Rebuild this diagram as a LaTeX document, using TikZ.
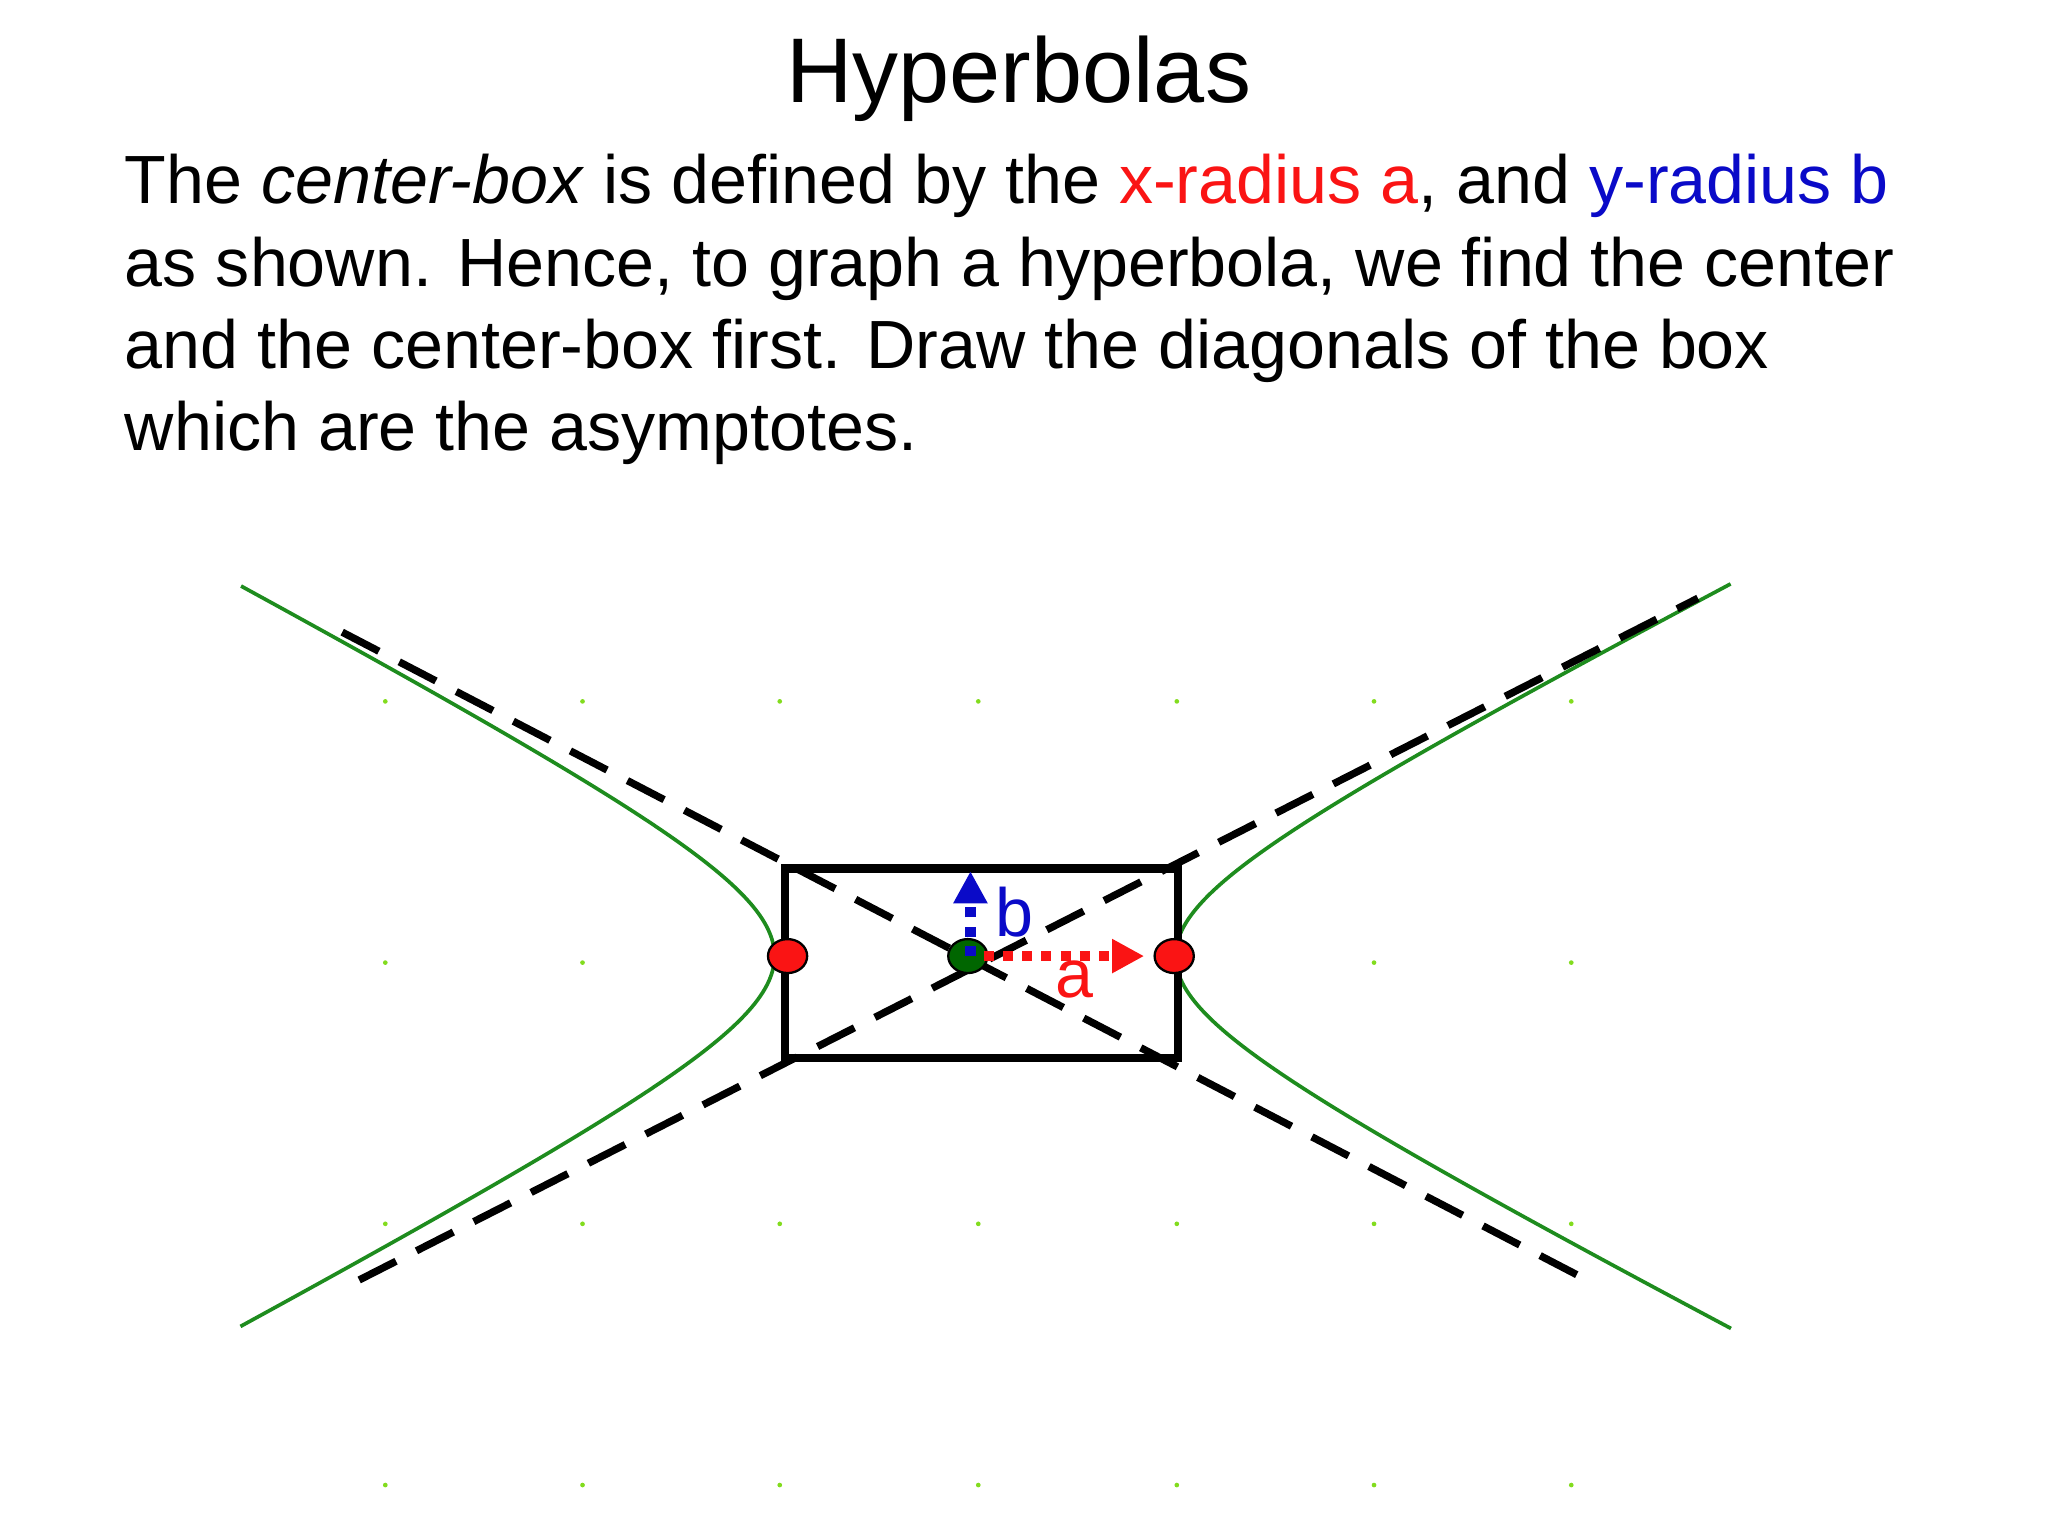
\documentclass[tikz,border=0pt]{standalone}
\usepackage{fontspec}
\setmainfont{Liberation Sans}
\usetikzlibrary{arrows.meta}
\definecolor{myred}{RGB}{250,20,20}
\definecolor{myblue}{RGB}{10,10,200}
\definecolor{hgreen}{RGB}{30,140,30}
\definecolor{gdot}{RGB}{130,220,30}
\begin{document}
\begin{tikzpicture}[x=0.01cm,y=-0.01cm,
  body/.style={anchor=base west,inner sep=0,font=\fontsize{14.85}{17}\selectfont},
  asym/.style={black,line width=1.6pt,dash pattern=on 9pt off 5pt},
  hyp/.style={hgreen,line width=0.8pt}]
\useasboundingbox (0,0) rectangle (1568,1176);
\node[font=\fontsize{20}{24}\selectfont] (title) at (780,60) {Hyperbolas};
\node[body] (l1) at (95,156) {The \textit{center-box} is defined by the \textcolor{myred}{x-radius a}, and \textcolor{myblue}{y-radius b}};
\node[body] (l2) at (95,219) {as shown. Hence, to graph a hyperbola, we find the center};
\node[body] (l3) at (95,282) {and the center-box first. Draw the diagonals of the box};
\node[body] (l4) at (95,345) {which are the asymptotes.};
% grid dots
\foreach \x in {295,446,597,749,901,1052,1203}
  \foreach \y in {537,737,937,1137}
    \fill[gdot] (\x,\y) circle[radius=1.8];
% hyperbola
\draw[hyp,domain=-2.02:2.02,samples=80,smooth] plot ({750+150*cosh(\x)},{732-77*sinh(\x)});
\draw[hyp,domain=-1.99:1.99,samples=80,smooth] plot ({743-150*cosh(\x)},{732-79*sinh(\x)});
% asymptotes
\coordinate (p1) at (262,484); \coordinate (p2) at (1215,980);
\coordinate (q1) at (275,980); \coordinate (q2) at (1300,458);
\draw[asym] (p1) -- (p2);
\draw[asym] (q1) -- (q2);
% box
\draw[black,line width=1.8pt] (601,665) rectangle (902,810);
% points
\fill[myred,draw=black,line width=0.5pt] (603,732) ellipse[x radius=15,y radius=13];
\fill[myred,draw=black,line width=0.5pt] (899,732) ellipse[x radius=15,y radius=13];
\fill[green!40!black,draw=black,line width=0.5pt] (741,732) ellipse[x radius=15,y radius=13];
\coordinate (c) at (743,732);
\coordinate (bt) at (743,667);
\coordinate (at) at (876,732);
\draw[myblue,line width=2.2pt,dotted,-{Triangle[length=7pt,width=7pt]}] (c) -- (bt);
\draw[myred,line width=2.2pt,dotted,-{Triangle[length=7pt,width=7pt]}] ([xshift=0.1cm]c) -- (at);
\node[myblue,font=\fontsize{14.85}{17}\selectfont] (b) at (777,698) {b};
\node[myred,font=\fontsize{14.85}{17}\selectfont] (a) at (823,750) {a};
\end{tikzpicture}
\end{document}
